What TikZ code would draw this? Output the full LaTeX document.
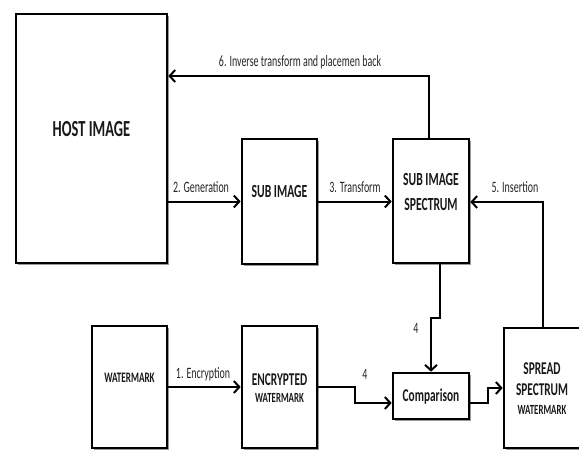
\documentclass[tikz,border=0pt]{standalone}
\usepackage{fontspec}
\setmainfont{Carlito}
\usetikzlibrary{arrows.meta,shadows}
\newcommand\cz[1]{\scalebox{0.63}[1]{#1}}
\tikzset{
  blk/.style={draw=black, line width=2.6pt, fill=white, inner sep=0pt,
    drop shadow={shadow xshift=1.8pt, shadow yshift=-1.8pt, fill=black!40, opacity=1}},
  bt/.style={inner sep=0pt, align=center, text=black!90, font=\bfseries},
  lbl/.style={inner sep=0pt, text=black!85, font=\fontsize{15.8}{18}\selectfont},
  arr/.style={line width=2pt, -{Straight Barb[length=5.5pt,width=12pt,line width=2pt]}},
  ln/.style={line width=2pt}
}
\begin{document}
\begin{tikzpicture}[x=1pt,y=-1pt]
\clip (0,0) rectangle (579,450);
\fill[white] (0,0) rectangle (579,450);
% boxes
\node[blk, minimum width=151pt, minimum height=249pt] (host) at (91.5,138.5) {};
\node[blk, minimum width=75pt, minimum height=125pt] (sub) at (279.5,201.5) {};
\node[blk, minimum width=76pt, minimum height=124pt] (spec) at (431,201) {};
\node[blk, minimum width=75pt, minimum height=122pt] (wm) at (129.5,387) {};
\node[blk, minimum width=75pt, minimum height=122pt] (enc) at (279.5,387) {};
\node[blk, minimum width=76pt, minimum height=46pt] (comp) at (431,396) {};
\node[blk, minimum width=86pt, minimum height=120pt] (spread) at (547,388) {};
% box texts
\node[bt, font=\bfseries\fontsize{23}{26}\selectfont] (hostt) at (91.5,129.5) {\cz{HOST IMAGE}};
\node[bt, font=\bfseries\fontsize{18.5}{22}\selectfont] (subt) at (279.5,191) {\cz{SUB IMAGE}};
\node[bt, font=\bfseries\fontsize{18.5}{25}\selectfont] (spect) at (431,192) {\cz{SUB IMAGE}\\\cz{SPECTRUM}};
\node[bt, font=\bfseries\fontsize{14.5}{17}\selectfont] (wmt) at (129.5,378) {\cz{WATERMARK}};
\node[bt, font=\bfseries\fontsize{18}{20}\selectfont] (enct) at (279.5,380) {\cz{ENCRYPTED}};
\node[bt, font=\bfseries\fontsize{14}{16}\selectfont] (enct2) at (279.5,398) {\cz{WATERMARK}};
\node[bt, font=\bfseries\fontsize{18}{20}\selectfont] (compt) at (431,397) {\cz{Comparison}};
\node[bt, font=\bfseries\fontsize{18}{20.5}\selectfont] (spreadt) at (542,379) {\cz{SPREAD}\\\cz{SPECTRUM}};
\node[bt, font=\bfseries\fontsize{14}{16}\selectfont] (spreadt2) at (542,410) {\cz{WATERMARK}};
% connectors
\coordinate (top6) at (429,76);
\draw[arr] ([xshift=-2pt]spec.north) |- (host.east |- top6);
\draw[arr] (host.east |- sub.west) -- (sub.west);
\draw[arr] (sub.east) -- (spec.west |- sub.east);
\draw[arr] ([xshift=-4pt]spread.north) |- ([yshift=-1pt]spec.east);
\draw[arr] (wm.east) -- (enc.west);
\draw[arr] ([xshift=9pt]spec.south) -- ++(0,54) -| (comp.north);
\draw[arr] (enc.east) -- ++(37,0) |- ([yshift=-7pt]comp.west);
\draw[arr] ([yshift=-7pt]comp.east) -- ++(18,0) |- (spread.west);
% labels
\node[lbl] (l6) at (300,62) {\cz{6. Inverse transform and placemen back}};
\node[lbl] (l2) at (201,187) {\cz{2. Generation}};
\node[lbl] (l3) at (355,187) {\cz{3. Transform}};
\node[lbl] (l5) at (515,187) {\cz{5. Insertion}};
\node[lbl] (l1) at (203,374) {\cz{1. Encryption}};
\node[lbl] (l4a) at (416,328) {\cz{4}};
\node[lbl] (l4b) at (365,374) {\cz{4}};
\end{tikzpicture}
\end{document}
